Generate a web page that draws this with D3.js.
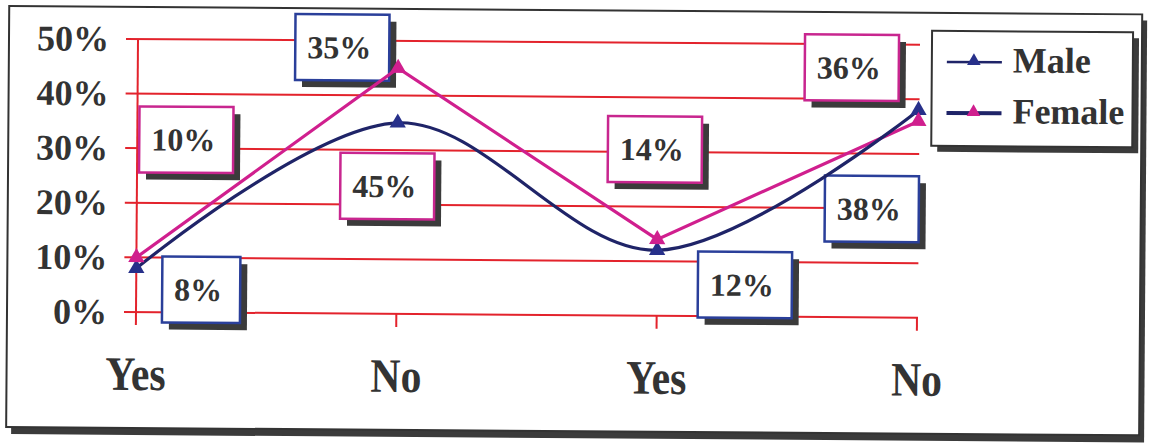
<!DOCTYPE html>
<html><head><meta charset="utf-8">
<script src="https://cdn.jsdelivr.net/npm/d3@7/dist/d3.min.js"></script>
<style>body{margin:0;background:#fff;overflow:hidden}svg{display:block}</style>
</head><body>
<svg id="chart" width="1149" height="446"></svg>
<script>
// ---- data ----
const categories = ["Yes", "No", "Yes", "No"];
const maleValues = [8, 35, 12, 38];
const femaleValues = [10, 45, 14, 36];
const maleLabels = ["8%", "35%", "12%", "38%"];
const femaleLabels = ["10%", "45%", "14%", "36%"];
const yTicks = [0, 10, 20, 30, 40, 50];
const yTickLabels = ["0%", "10%", "20%", "30%", "40%", "50%"];
const seriesNames = ["Male", "Female"];

// ---- layout (label box offsets from their point) ----
const maleLabelOffsets = [[65, 21], [-56, -75], [88, 34], [-46, 99]];
const femaleLabelOffsets = [[49, -118], [-10, 118], [-3, -90], [-67, -53]];

const C = {
  grid: "#e3232c", male: "#1f2468", maleMark: "#27308a", maleBox: "#2a3f9a",
  female: "#d01f8e", femaleBox: "#c8268f", text: "#333", shadow: "#3b3b3b", frame: "#333"
};
const FONT = "'Liberation Serif','Times New Roman',serif";

const svg = d3.select("#chart");
const root = svg.append("g").attr("transform", "rotate(0.42,136,312)");

// frame
root.append("rect").attr("x", 12).attr("y", 13).attr("width", 1133).attr("height", 422).attr("fill", C.shadow);
root.append("rect").attr("x", 7).attr("y", 7).attr("width", 1133).attr("height", 421)
  .attr("fill", "#fff").attr("stroke", C.frame).attr("stroke-width", 2);

const x = d3.scalePoint().domain(d3.range(categories.length)).range([136, 917]);
const y = d3.scaleLinear().domain([0, 50]).range([312, 39]);

// gridlines
root.append("g").selectAll("line").data(yTicks).join("line")
  .attr("x1", 124).attr("x2", 918)
  .attr("y1", d => y(d)).attr("y2", d => y(d))
  .attr("stroke", C.grid).attr("stroke-width", 2);

// vertical axis + category ticks
root.append("line").attr("x1", x(0)).attr("x2", x(0)).attr("y1", y(50)).attr("y2", y(0) + 13)
  .attr("stroke", C.grid).attr("stroke-width", 2);
root.append("g").selectAll("line").data(d3.range(1, categories.length)).join("line")
  .attr("x1", d => x(d)).attr("x2", d => x(d)).attr("y1", y(0)).attr("y2", y(0) + 13)
  .attr("stroke", C.grid).attr("stroke-width", 2);

// y labels
root.append("g").selectAll("text").data(yTicks).join("text")
  .attr("x", 107).attr("y", d => y(d) + 12)
  .attr("text-anchor", "end").attr("font-family", FONT).attr("font-weight", "bold")
  .attr("font-size", 36).attr("fill", C.text)
  .text((d, i) => yTickLabels[i]);

// x labels
root.append("g").selectAll("text").data(categories).join("text")
  .attr("transform", (d, i) => `translate(${x(i)},390) scale(0.87,1)`)
  .attr("text-anchor", "middle").attr("font-family", FONT).attr("font-weight", "bold")
  .attr("font-size", 48).attr("fill", C.text)
  .text(d => d);

// label boxes
function drawLabels(values, labels, offsets, boxColor) {
  const g = root.append("g");
  values.forEach((v, i) => {
    const cx = x(i) + offsets[i][0], cy = y(v) + offsets[i][1];
    const lg = g.append("g");
    const shadow = lg.append("rect");
    const box = lg.append("rect");
    const t = lg.append("text").attr("x", cx - 3).attr("y", cy + 11)
      .attr("text-anchor", "middle").attr("font-family", FONT).attr("font-weight", "bold")
      .attr("font-size", 32).attr("fill", C.text).text(labels[i]);
    const w = t.node().getComputedTextLength() + 30, h = 66;
    shadow.attr("x", cx - w / 2 + 7).attr("y", cy - h / 2 + 7).attr("width", w).attr("height", h).attr("fill", C.shadow);
    box.attr("x", cx - w / 2).attr("y", cy - h / 2).attr("width", w).attr("height", h)
      .attr("fill", "#fff").attr("stroke", boxColor).attr("stroke-width", 2.5);
  });
}
drawLabels(maleValues, maleLabels, maleLabelOffsets, C.maleBox);
drawLabels(femaleValues, femaleLabels, femaleLabelOffsets, C.femaleBox);

// lines
const maleLine = d3.line().x((d, i) => x(i)).y(d => y(d)).curve(d3.curveCardinal.tension(0));
const femaleLine = d3.line().x((d, i) => x(i)).y(d => y(d)).curve(d3.curveLinear);
root.append("path").attr("d", femaleLine(femaleValues)).attr("fill", "none")
  .attr("stroke", C.female).attr("stroke-width", 3.2);
root.append("path").attr("d", maleLine(maleValues)).attr("fill", "none")
  .attr("stroke", C.male).attr("stroke-width", 3.2);

const tri = d3.symbol().type(d3.symbolTriangle).size(115);
root.append("g").selectAll("path").data(maleValues).join("path")
  .attr("d", tri).attr("transform", (d, i) => `translate(${x(i)},${y(d)})`).attr("fill", C.maleMark);
root.append("g").selectAll("path").data(femaleValues).join("path")
  .attr("d", tri).attr("transform", (d, i) => `translate(${x(i)},${y(d)})`).attr("fill", C.female);

// legend
const lg = root.append("g");
lg.append("rect").attr("x", 936).attr("y", 31).attr("width", 201).attr("height", 115).attr("fill", C.shadow);
lg.append("rect").attr("x", 930).attr("y", 25).attr("width", 201).attr("height", 115)
  .attr("fill", "#fff").attr("stroke", C.frame).attr("stroke-width", 2);
const legendItems = [
  { name: seriesNames[0], line: C.male, lw: 2.5, mark: C.maleMark, ly: 56 },
  { name: seriesNames[1], line: C.male, lw: 4, mark: C.female, ly: 107 }
];
legendItems.forEach(it => {
  lg.append("line").attr("x1", 945).attr("x2", 1000).attr("y1", it.ly).attr("y2", it.ly)
    .attr("stroke", it.line).attr("stroke-width", it.lw);
  lg.append("path").attr("d", d3.symbol().type(d3.symbolTriangle).size(80)())
    .attr("transform", `translate(972,${it.ly - 1})`).attr("fill", it.mark);
  lg.append("text").attr("x", 1011).attr("y", it.ly + 10).attr("font-family", FONT)
    .attr("font-weight", "bold").attr("font-size", 36).attr("fill", C.text).text(it.name);
});
</script>
</body></html>
